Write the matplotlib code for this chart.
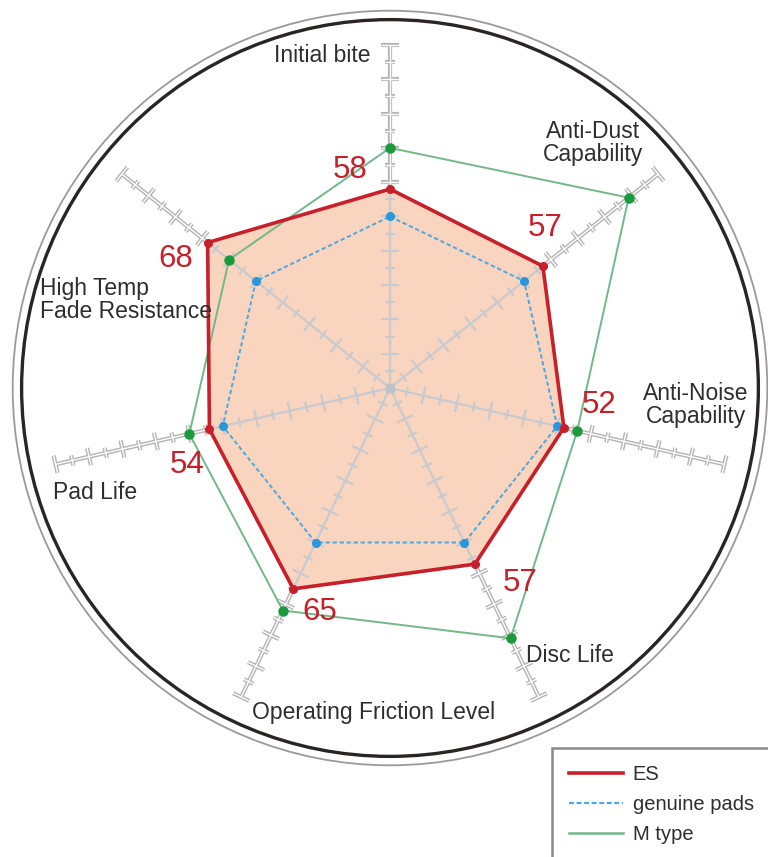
"""
ブレーキパッド性能レーダーチャート
"""
import matplotlib
matplotlib.use('Agg')
import matplotlib.pyplot as plt
import matplotlib.patheffects as pe
from matplotlib.collections import LineCollection
from matplotlib.lines import Line2D
from matplotlib.patches import Circle, Rectangle
import numpy as np

plt.rcParams['font.family'] = ['Liberation Sans', 'DejaVu Sans']

# データ
categories = ['Initial bite', 'Anti-Dust\nCapability', 'Anti-Noise\nCapability', 'Disc Life',
              'Operating Friction Level', 'Pad Life', 'High Temp\nFade Resistance']
es_values = [58, 57, 52, 57, 65, 54, 68]
genuine_values = [50, 50, 50, 50, 50, 50, 50]
mtype_values = [70, 89, 56, 81, 72, 60, 60]
series_names = ['ES', 'genuine pads', 'M type']

# 色
RED = '#c8202a'
FILL = '#f9d4be'
BLUE = '#4aa8e0'
BLUE_DOT = '#2a96dc'
GREEN = '#72b888'
GREEN_DOT = '#1b9a3c'
TEXT = '#2e2e2e'

n = len(categories)
angles = np.deg2rad(90 - np.arange(n) * 360 / n)  # 時計回り


def to_xy(vals):
    v = np.asarray(vals, dtype=float)
    return v * np.cos(angles), v * np.sin(angles)


# 1単位 = 3.43px, 中心 = (390, 388)px
scale = 3.43
fig = plt.figure(figsize=(7.68, 8.57), dpi=100)
ax = fig.add_axes([0, 0, 1, 1])
ax.set_xlim(-390 / scale, 378 / scale)
ax.set_ylim(-(857 - 388) / scale, 388 / scale)
ax.axis('off')

# 外周の二重円
ax.add_patch(Circle((0, 0), 107.4, fill=False, ec='#2a2424', lw=2.4, zorder=1))
ax.add_patch(Circle((0, 0), 110.0, fill=False, ec='#9a9a9a', lw=1.3, zorder=1))

# 軸と目盛り
segs = []
for a in angles:
    c, s = np.cos(a), np.sin(a)
    segs.append([(0, 0), (100 * c, 100 * s)])
    for t in range(5, 101, 5):
        h = 2.6 if t % 10 == 0 else 1.5
        px, py = t * c, t * s
        segs.append([(px - h * s, py + h * c), (px + h * s, py - h * c)])

outer = LineCollection(segs, colors='white', linewidths=1.0, zorder=2,
                       path_effects=[pe.Stroke(linewidth=3.0, foreground='#b4b4b4'), pe.Normal()])
ax.add_collection(outer)

# ES塗りつぶし
ex, ey = to_xy(es_values)
poly = ax.fill(ex, ey, color=FILL, zorder=3, lw=0)[0]

inner = LineCollection(segs, colors='#c9cacf', linewidths=1.6, zorder=4)
inner.set_clip_path(poly)
ax.add_collection(inner)
ax.plot(0, 0, 's', color='#c0c2c8', ms=6, zorder=4)

# 純正パッド
gx, gy = to_xy(genuine_values)
ax.plot(np.append(gx, gx[0]), np.append(gy, gy[0]), color=BLUE, lw=1.4,
        ls=(0, (2.2, 1.4)), zorder=5)
ax.plot(gx, gy, 'o', color=BLUE_DOT, ms=5.5, zorder=6)

# Mタイプ
mx, my = to_xy(mtype_values)
ax.plot(np.append(mx, mx[0]), np.append(my, my[0]), color=GREEN, lw=1.4, zorder=5)
ax.plot(mx, my, 'o', color=GREEN_DOT, ms=6.5, zorder=7)

# ES
ax.plot(np.append(ex, ex[0]), np.append(ey, ey[0]), color=RED, lw=2.6, zorder=6)
ax.plot(ex, ey, 'o', color=RED, ms=5.5, zorder=7)

# 数値ラベル（px位置）
value_pos = [(350, 170), (545, 228), (599, 405), (520, 583), (320, 612), (187, 465), (176, 259)]
for v, (px, py) in zip(es_values, value_pos):
    ax.text((px - 390) / scale, (388 - py) / scale, str(v), color=RED, fontsize=22.5,
            ha='center', va='center', zorder=8)

# 項目ラベル
label_pos = [(322, 55, 'center'), (593, 143, 'center'), (696, 405, 'center'), (570, 655, 'center'),
             (374, 712, 'center'), (95, 493, 'center'), (40, 300, 'left')]
for lab, (px, py, ha) in zip(categories, label_pos):
    ax.text((px - 390) / scale, (388 - py) / scale, lab, color=TEXT, fontsize=16.5,
            ha=ha, va='center', linespacing=1.05, zorder=8)

# 凡例
fig.patches.append(Rectangle((552 / 768, -0.05), 0.3, 1 - 748 / 857 + 0.05,
                             transform=fig.transFigure, fill=False, ec='#8a8a8a', lw=1.8))
handles = [Line2D([], [], color=RED, lw=2.6),
           Line2D([], [], color=BLUE, lw=1.6, ls=(0, (2.2, 1.2))),
           Line2D([], [], color=GREEN, lw=1.8)]
fig.legend(handles, series_names, loc='upper left', bbox_to_anchor=(559 / 768, 1 - 755 / 857),
           frameon=False, fontsize=14.5, handlelength=2.7, handletextpad=0.45,
           labelspacing=0.55, borderpad=0.0, labelcolor=TEXT)

plt.savefig('out.png', dpi=100, facecolor='white')
plt.close()
